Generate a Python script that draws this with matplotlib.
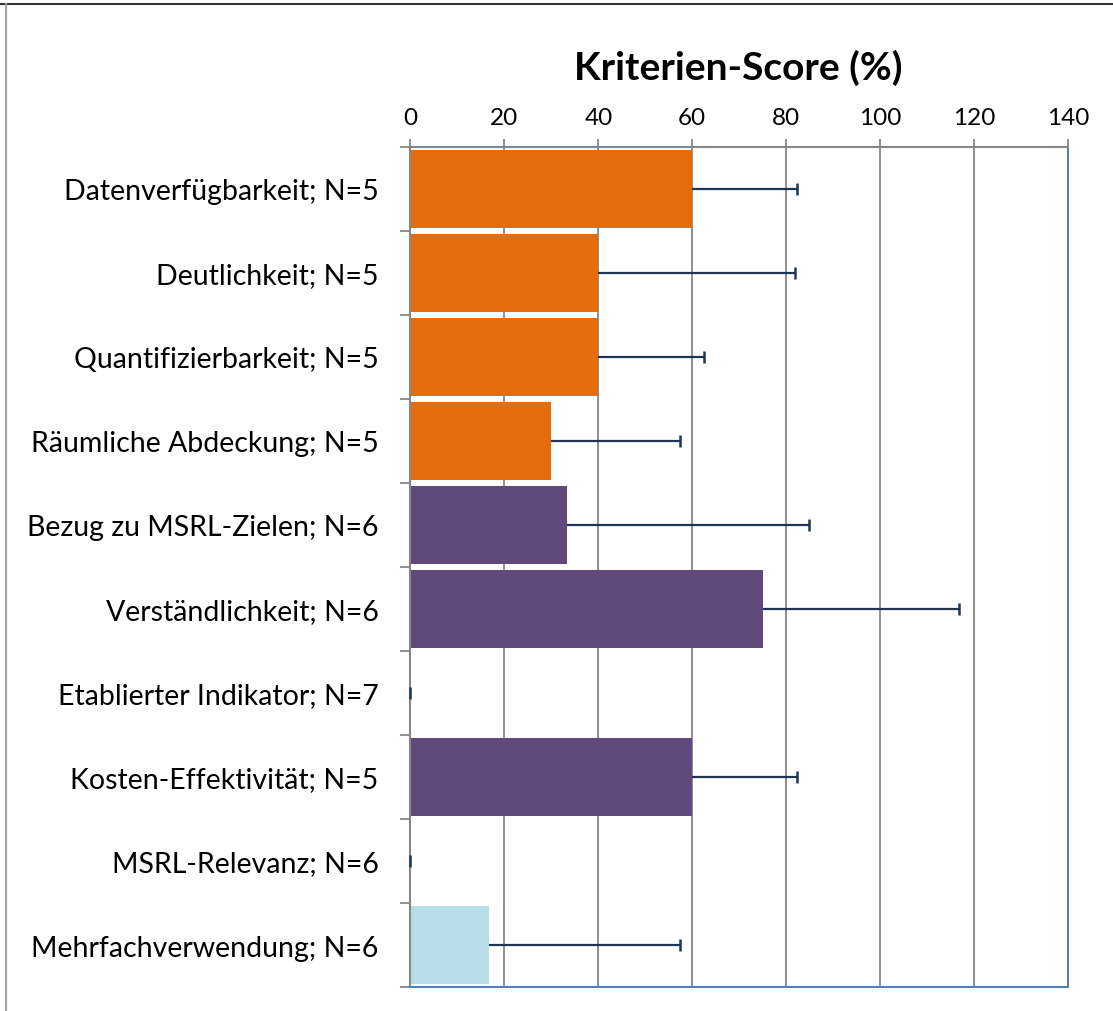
import matplotlib.pyplot as plt
import numpy as np
from matplotlib.lines import Line2D

categories = [
    "Datenverfügbarkeit; N=5",
    "Deutlichkeit; N=5",
    "Quantifizierbarkeit; N=5",
    "Räumliche Abdeckung; N=5",
    "Bezug zu MSRL-Zielen; N=6",
    "Verständlichkeit; N=6",
    "Etablierter Indikator; N=7",
    "Kosten-Effektivität; N=5",
    "MSRL-Relevanz; N=6",
    "Mehrfachverwendung; N=6",
]
scores = [60, 40, 40, 30, 33.3, 75, 0, 60, 0, 16.7]
errors = [22.4, 41.8, 22.4, 27.4, 51.6, 41.8, 0, 22.4, 0, 40.7]
bar_colors = ['#E46C0A'] * 4 + ['#604A7B'] * 4 + ['#B7DEE8'] * 2
xticks = [0, 20, 40, 60, 80, 100, 120, 140]

plt.rcParams['font.family'] = ['Lato', 'DejaVu Sans']

fig = plt.figure(figsize=(11.13, 10.12), dpi=100)
ax = fig.add_axes([0.3688, 0.0237, 0.5908, 0.8301])

y = np.arange(len(categories))
s = np.array(scores)
e = np.array(errors)
ax.barh(y, s, height=0.92, color=bar_colors, zorder=2)
# one-sided error bars: line plus cap only at the upper end
ax.hlines(y, s, s + e, color='#1F3552', linewidth=1.6, zorder=3)
ax.plot(s + e, y, linestyle='none', marker='|', markersize=9, markeredgewidth=1.8,
        color='#1F3552', zorder=3, clip_on=False)

ax.set_xlim(0, 140)
ax.set_ylim(len(categories) - 0.5, -0.5)
ax.xaxis.tick_top()
ax.set_xticks(xticks)
ax.tick_params(axis='x', which='major', direction='out', length=6, width=1.3,
               color='#868686', labelsize=17.5, pad=8)
ax.set_yticks(y)
ax.set_yticklabels(categories)
ax.set_yticks(np.arange(len(categories) + 1) - 0.5, minor=True)
ax.tick_params(axis='y', which='major', length=0, labelsize=20.5, pad=23)
ax.tick_params(axis='y', which='minor', direction='out', length=7, width=1.3,
               color='#868686')
ax.grid(axis='x', color='#868686', linewidth=1.3, zorder=0)
ax.set_axisbelow(True)

for side in ['top', 'left']:
    ax.spines[side].set_color('#868686')
    ax.spines[side].set_linewidth(1.5)
for side in ['right', 'bottom']:
    ax.spines[side].set_color('#4F81BD')
    ax.spines[side].set_linewidth(1.5)

fig.text(0.6631, 1 - 68 / 1012, "Kriterien-Score (%)", ha='center', va='center',
         fontsize=28, fontweight='bold')

# outer frame of the chart area
fig.add_artist(Line2D([0, 1], [1 - 5 / 1012, 1 - 5 / 1012], color='#333333', linewidth=1.5))
fig.add_artist(Line2D([6 / 1113, 6 / 1113], [0, 1 - 5 / 1012], color='#A0A0A0', linewidth=1.5))

fig.savefig('out.png', dpi=100)
